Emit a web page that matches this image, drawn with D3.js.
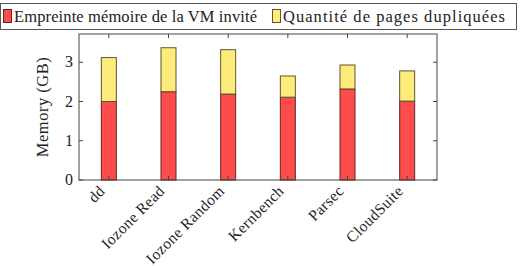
<!DOCTYPE html>
<html>
<head>
<meta charset="utf-8">
<script src="https://cdn.jsdelivr.net/npm/d3@7"></script>
<style>
  body { margin: 0; background: #fff; }
  text { font-family: "Liberation Serif", "DejaVu Serif", serif; fill: #222; }
</style>
</head>
<body>
<div id="chart"></div>
<script>
var categories = ["dd", "Iozone Read", "Iozone Random", "Kernbench", "Parsec", "CloudSuite"];
var footprint = [2.0, 2.25, 2.19, 2.11, 2.32, 2.01];
var duplicated = [1.12, 1.12, 1.13, 0.54, 0.61, 0.77];
var seriesNames = ["Empreinte mémoire de la VM invité", "Quantité de pages dupliquées"];
var yTicks = [0, 1, 2, 3];

var width = 527, height = 266;
var margin = {left: 79, right: 90, top: 34, bottom: 86};

var svg = d3.select("#chart").append("svg")
    .attr("width", width)
    .attr("height", height);

var x = d3.scaleBand()
    .domain(categories)
    .range([margin.left, width - margin.right]);

var y = d3.scaleLinear()
    .domain([0, 3.72])
    .range([height - margin.bottom, margin.top]);

var colors = [
    {fill: "#fe4b4b", stroke: "#5c2a24"},
    {fill: "#fdec79", stroke: "#5f5630"}
];

var barW = 15;
var data = categories.map(function (c, i) {
    return {cat: c, a: footprint[i], b: duplicated[i]};
});

// red part
svg.selectAll("rect.a")
    .data(data)
    .enter()
    .append("rect")
    .attr("class", "a")
    .attr("x", function (d) { return x(d.cat) + x.bandwidth() / 2 - barW / 2; })
    .attr("width", barW)
    .attr("y", function (d) { return y(d.a); })
    .attr("height", function (d) { return y(0) - y(d.a); })
    .attr("fill", colors[0].fill)
    .attr("stroke", colors[0].stroke)
    .attr("stroke-width", 1);

// yellow part on top
svg.selectAll("rect.b")
    .data(data)
    .enter()
    .append("rect")
    .attr("class", "b")
    .attr("x", function (d) { return x(d.cat) + x.bandwidth() / 2 - barW / 2; })
    .attr("width", barW)
    .attr("y", function (d) { return y(d.a + d.b); })
    .attr("height", function (d) { return y(d.a) - y(d.a + d.b); })
    .attr("fill", colors[1].fill)
    .attr("stroke", colors[1].stroke)
    .attr("stroke-width", 1);

// frame
var x0 = margin.left, x1 = width - margin.right, y0 = y(0), y1 = margin.top;
svg.append("rect")
    .attr("x", x0).attr("y", y1)
    .attr("width", x1 - x0).attr("height", y0 - y1)
    .attr("fill", "none").attr("stroke", "#444").attr("stroke-width", 1);

// ticks (mirrored)
var tl = 4;
categories.forEach(function (c) {
    var cx = x(c) + x.bandwidth() / 2;
    svg.append("line").attr("x1", cx).attr("x2", cx).attr("y1", y0).attr("y2", y0 - tl).attr("stroke", "#444");
    svg.append("line").attr("x1", cx).attr("x2", cx).attr("y1", y1).attr("y2", y1 + tl).attr("stroke", "#444");
});
yTicks.forEach(function (t) {
    svg.append("line").attr("x1", x0).attr("x2", x0 + tl).attr("y1", y(t)).attr("y2", y(t)).attr("stroke", "#444");
    svg.append("line").attr("x1", x1).attr("x2", x1 - tl).attr("y1", y(t)).attr("y2", y(t)).attr("stroke", "#444");
    svg.append("text")
        .attr("x", x0 - 6)
        .attr("y", y(t) + 5)
        .attr("text-anchor", "end")
        .style("font-size", "16px")
        .text(t);
});

// x labels rotated
svg.selectAll("text.xl")
    .data(categories)
    .enter()
    .append("text")
    .attr("class", "xl")
    .attr("text-anchor", "end")
    .style("font-size", "15.5px")
    .style("letter-spacing", "0.35px")
    .attr("transform", function (c) {
        var cx = x(c) + x.bandwidth() / 2 - 3;
        return "translate(" + cx + "," + (y0 + 12) + ") rotate(-45)";
    })
    .text(function (c) { return c; });

// y label
svg.append("text")
    .attr("transform", "translate(48," + ((y0 + y1) / 2) + ") rotate(-90)")
    .attr("text-anchor", "middle")
    .style("font-size", "16.5px")
    .style("letter-spacing", "0.5px")
    .text("Memory (GB)");

// legend
var lg = svg.append("g");
lg.append("rect")
    .attr("x", 0.5).attr("y", 3.5)
    .attr("width", 516).attr("height", 26)
    .attr("fill", "#fff").attr("stroke", "#555");
var legX = [3, 272];
var legW = [243, 222];
seriesNames.forEach(function (name, i) {
    lg.append("rect")
        .attr("x", legX[i] + 0.5).attr("y", 9.5)
        .attr("width", 8).attr("height", 13)
        .attr("fill", colors[i].fill)
        .attr("stroke", colors[i].stroke);
    lg.append("text")
        .attr("x", legX[i] + 11)
        .attr("y", 21.5)
        .style("font-size", "16.5px")
        .attr("textLength", legW[i])
        .attr("lengthAdjust", "spacing")
        .text(name);
});
</script>
</body>
</html>
